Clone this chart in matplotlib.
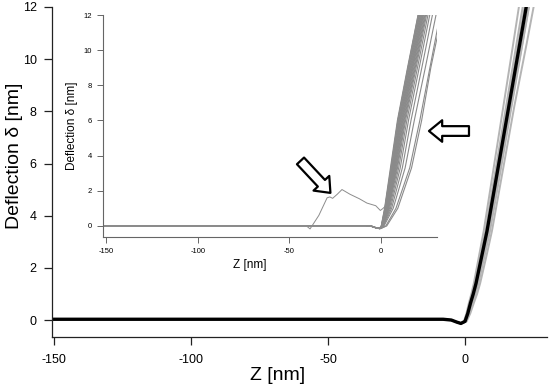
import matplotlib
matplotlib.use("Agg")
import matplotlib.pyplot as plt

plt.rcParams['font.family'] = ['Liberation Sans', 'DejaVu Sans']
plt.rcParams['axes.unicode_minus'] = False

# ---- main plot: approach curves (z [nm], deflection [nm]) ----
flat_z = [-150.7, -8, -5, -3]
flat_d = [0.03, 0.03, 0.0, -0.08]

rise_d = [-0.13, -0.05, 0.25, 0.65, 1.0, 1.4, 2.4, 3.4, 5.8, 8.2, 10.6, 12.1, 13.5]
black_z = [-1.5, 0, 1, 2, 3, 4, 6, 8, 12, 16, 20, 22.5, 24.8]
gray_z = [
    [-1.8, -0.4, 0.5, 1.4, 2.3, 3.2, 5.0, 6.8, 10.4, 14.0, 17.6, 19.8, 21.9],
    [-1.7, -0.2, 0.8, 1.7, 2.6, 3.6, 5.5, 7.4, 11.2, 15.0, 18.8, 21.2, 23.3],
    [-1.6, -0.1, 0.9, 1.9, 2.8, 3.8, 5.8, 7.7, 11.6, 15.5, 19.4, 21.9, 24.1],
    [-1.4, 0.2, 1.2, 2.3, 3.3, 4.4, 6.5, 8.6, 12.7, 16.8, 20.9, 23.4, 25.7],
    [-1.3, 0.4, 1.5, 2.7, 3.8, 4.9, 7.0, 9.1, 13.1, 17.0, 21.0, 23.5, 25.8],
    [-1.2, 0.6, 1.9, 3.2, 4.4, 5.5, 7.7, 9.8, 13.9, 18.0, 22.5, 25.2, 27.6],
]

# ---- inset: all approach curves ----
in_flat_z = [-151.6, -8, -5, -2.5]
in_flat_d = [0.02, 0.02, -0.03, -0.12]
in_rise_d = [-0.15, 0, 1, 3.3, 6, 9, 12.5]
in_z = [
    [-1.0, 0.0, 1.8, 5.0, 8.8, 14.3, 21.0],
    [-0.99, 0.05, 1.95, 5.25, 9.1, 14.6, 21.29],
    [-0.97, 0.09, 2.1, 5.5, 9.4, 14.9, 21.59],
    [-0.96, 0.14, 2.25, 5.75, 9.7, 15.2, 21.88],
    [-0.94, 0.18, 2.4, 6.0, 10.0, 15.5, 22.18],
    [-0.93, 0.23, 2.55, 6.25, 10.25, 15.8, 22.47],
    [-0.91, 0.27, 2.7, 6.5, 10.5, 16.1, 22.76],
    [-0.9, 0.32, 2.85, 6.75, 10.8, 16.4, 23.06],
    [-0.88, 0.36, 3.0, 7.0, 11.1, 16.7, 23.35],
    [-0.87, 0.41, 3.15, 7.25, 11.4, 17.0, 23.65],
    [-0.85, 0.45, 3.3, 7.5, 11.7, 17.3, 23.94],
    [-0.83, 0.51, 3.5, 7.8, 12.06, 17.7, 24.33],
    [-0.81, 0.57, 3.7, 8.1, 12.42, 18.1, 24.72],
    [-0.79, 0.63, 3.9, 8.45, 12.78, 18.49, 25.12],
    [-0.77, 0.71, 4.1, 8.85, 13.23, 18.97, 25.61],
    [-0.73, 0.83, 4.5, 9.5, 13.95, 19.73, 26.39],
    [-0.68, 0.98, 5.0, 10.34, 14.85, 20.68, 27.37],
    [-0.6, 1.2, 5.64, 11.48, 16.2, 22.1, 28.84],
    [-0.5, 1.5, 6.5, 13.0, 18.0, 24.0, 30.8],
    [-0.3, 2.5, 8.0, 15.5, 21.0, 26.5, 33.0],
    [-0.3, 3.0, 9.0, 16.5, 22.0, 27.0, 34.0],
]
# the one curve with an early jump (marked by the arrow)
bump_z = [-151.6, -41, -38.8, -34, -29.5, -28, -26.5, -24, -21.4, -17, -12,
          -7.8, -3, -0.5, 1, 2.2, 5.4, 9, 14.5, 21]
bump_d = [0.02, 0.02, -0.17, 0.6, 1.6, 1.65, 1.57, 1.8, 2.07, 1.8, 1.55,
          1.3, 1.15, 0.88, 1.0, 1.13, 3.3, 6, 9, 12.5]

fig = plt.figure(figsize=(5.5, 3.87), dpi=100)

# main axes
ax = fig.add_axes([0.0945, 0.1292, 0.9, 0.8528])
for gz in gray_z:
    ax.plot(flat_z + gz, flat_d + rise_d, color='#b4b4b4', lw=1.4)
ax.plot(flat_z + black_z, flat_d + rise_d, color='black', lw=2.4)
ax.set_xlim(-150.7, 29.9)
ax.set_ylim(-0.65, 12)
ax.set_xticks([-150, -100, -50, 0])
ax.set_yticks([0, 2, 4, 6, 8, 10, 12])
for s in ['top', 'right']:
    ax.spines[s].set_visible(False)
for s in ['left', 'bottom']:
    ax.spines[s].set_color('#222222')
    ax.spines[s].set_linewidth(0.9)
ax.tick_params(direction='out', length=6, width=0.9, color='#222222', labelsize=9, pad=5)
ax.tick_params(axis='x', pad=6)
ax.set_xlabel('Z [nm]', fontsize=14, va='center')
ax.xaxis.set_label_coords(0.455, -0.118)
ax.set_ylabel('Deflection δ [nm]', fontsize=14, va='center')
ax.yaxis.set_label_coords(-0.075, 0.55)

# inset axes
axi = fig.add_axes([0.1873, 0.3876, 0.607, 0.5736])
axi.set_facecolor('none')
for cz in in_z:
    axi.plot(in_flat_z + cz, in_flat_d + in_rise_d, color='#8a8a8a', lw=0.8)
axi.plot(bump_z, bump_d, color='#8c8c8c', lw=0.7)
axi.set_xlim(-151.6, 30.3)
axi.set_ylim(-0.63, 12)
axi.set_xticks([-150, -100, -50, 0])
axi.set_yticks([0, 2, 4, 6, 8, 10, 12])
for s in ['top', 'right']:
    axi.spines[s].set_visible(False)
for s in ['left', 'bottom']:
    axi.spines[s].set_color('#666666')
    axi.spines[s].set_linewidth(0.8)
axi.tick_params(direction='out', length=4, width=0.7, color='#666666', labelsize=5.5, pad=4)
axi.set_xlabel('Z [nm]', fontsize=8.5, va='center')
axi.xaxis.set_label_coords(0.44, -0.126)
axi.set_ylabel('Deflection δ [nm]', fontsize=8.5, va='center')
axi.yaxis.set_label_coords(-0.092, 0.5)

# hollow arrows
arrow_style = "simple,head_length=0.95,head_width=1.55,tail_width=0.7"
axi.annotate('', xy=(-27.7, 1.88), xytext=(-44, 3.7),
             arrowprops=dict(arrowstyle=arrow_style, fc='white', ec='black', lw=1.6,
                             mutation_scale=10, shrinkA=0, shrinkB=0),
             annotation_clip=False)
axi.annotate('', xy=(26, 5.4), xytext=(47.8, 5.4),
             arrowprops=dict(arrowstyle=arrow_style, fc='white', ec='black', lw=1.6,
                             mutation_scale=10, shrinkA=0, shrinkB=0),
             annotation_clip=False)

fig.savefig('out.png', dpi=100)
